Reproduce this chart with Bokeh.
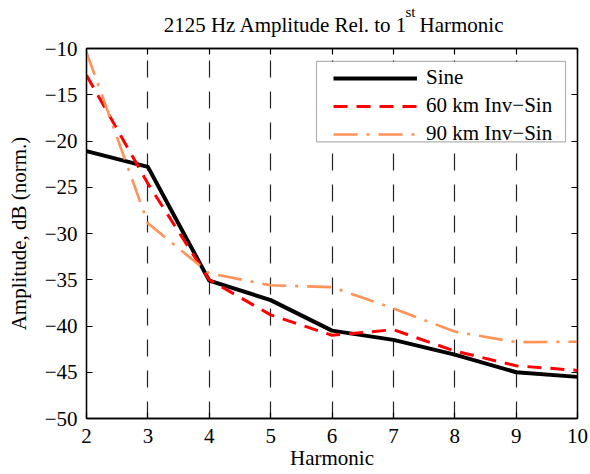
from bokeh.plotting import figure
from bokeh.models import (Range1d, FixedTicker, LinearAxis, BoxAnnotation,
                          Legend, LegendItem)
from bokeh.embed import file_html
from bokeh.resources import INLINE

# ---------------- data ----------------
harmonics = [2, 3, 4, 5, 6, 7, 8, 9, 10]
sine = [-21.1, -22.8, -35.1, -37.2, -40.5, -41.5, -43.1, -45.0, -45.5]
inv_sin_60 = [-12.9, -24.6, -35.0, -38.8, -41.0, -40.4, -42.7, -44.3, -44.8]
inv_sin_90 = [-10.4, -28.9, -34.3, -35.6, -35.8, -38.1, -40.6, -41.75, -41.7]

series_labels = ["Sine", "60 km Inv\u2212Sin", "90 km Inv\u2212Sin"]
x_ticks = [2, 3, 4, 5, 6, 7, 8, 9, 10]
y_ticks = [-50, -45, -40, -35, -30, -25, -20, -15, -10]
y_tick_labels = ["\u221250", "\u221245", "\u221240", "\u221235", "\u221230",
                 "\u221225", "\u221220", "\u221215", "\u221210"]

title_main = "2125 Hz Amplitude Rel. to 1"
title_sup = "st"
title_rest = "Harmonic"
x_label = "Harmonic"
y_label = "Amplitude, dB (norm.)"

FONT = "Liberation Serif"

# title piece anchors (x positions of the centre of each piece, layout only)
TITLE_MAIN_X = 5.244
TITLE_SUP_X = 7.278
TITLE_REST_X = 8.11

# ---------------- figure ----------------
p = figure(width=590, height=474, title=None,
           x_range=Range1d(2, 10), y_range=Range1d(-50, -10),
           output_backend="svg", toolbar_location=None,
           min_border_left=86, min_border_right=13,
           min_border_top=46, min_border_bottom=56)

p.outline_line_color = "black"
p.outline_line_width = 1.3
p.background_fill_color = "white"
p.border_fill_color = "white"

# bottom / left axes
for ax in (p.xaxis[0], p.yaxis[0]):
    ax.major_tick_in = 6
    ax.major_tick_out = 0
    ax.minor_tick_line_color = None
    ax.axis_line_color = "black"
    ax.axis_line_width = 1.3
    ax.major_tick_line_color = "black"
    ax.major_tick_line_width = 1.2
    ax.major_label_text_font = FONT
    ax.major_label_text_font_size = "21px"
    ax.major_label_text_color = "black"
    ax.axis_label_text_font = FONT
    ax.axis_label_text_font_size = "21px"
    ax.axis_label_text_font_style = "normal"
    ax.axis_label_text_color = "black"

p.xaxis[0].ticker = FixedTicker(ticks=x_ticks)
p.xaxis[0].major_label_standoff = 10
p.xaxis[0].axis_label = x_label
p.xaxis[0].axis_label_standoff = 0

p.yaxis[0].ticker = FixedTicker(ticks=y_ticks)
p.yaxis[0].major_label_overrides = {t: s for t, s in zip(y_ticks, y_tick_labels)}
p.yaxis[0].major_label_standoff = 9
p.yaxis[0].axis_label = y_label
p.yaxis[0].axis_label_standoff = 11

# top / right axes: ticks only
top_axis = LinearAxis(ticker=FixedTicker(ticks=x_ticks),
                      major_label_overrides={t: "" for t in x_ticks})
right_axis = LinearAxis(ticker=FixedTicker(ticks=y_ticks),
                        major_label_overrides={t: "" for t in y_ticks})
for ax in (top_axis, right_axis):
    ax.major_tick_in = 6
    ax.major_tick_out = 0
    ax.minor_tick_line_color = None
    ax.axis_line_color = "black"
    ax.axis_line_width = 1.3
    ax.major_tick_line_color = "black"
    ax.major_tick_line_width = 1.2
    ax.major_label_standoff = 0
    ax.major_label_text_font_size = "0px"
p.add_layout(top_axis, "above")
p.add_layout(right_axis, "right")

# title as text of two bare axes above the frame (keeps the superscript)
title_axis = LinearAxis(ticker=FixedTicker(ticks=[TITLE_MAIN_X, TITLE_REST_X]),
                        major_label_overrides={TITLE_MAIN_X: title_main,
                                               TITLE_REST_X: title_rest})
sup_axis = LinearAxis(ticker=FixedTicker(ticks=[TITLE_SUP_X]),
                      major_label_overrides={TITLE_SUP_X: title_sup})
for ax, size, standoff in ((title_axis, "21px", 12), (sup_axis, "15px", -10)):
    ax.axis_line_color = None
    ax.major_tick_line_color = None
    ax.minor_tick_line_color = None
    ax.major_tick_in = 0
    ax.major_tick_out = 0
    ax.major_label_standoff = standoff
    ax.major_label_text_font = FONT
    ax.major_label_text_font_size = size
    ax.major_label_text_color = "black"
p.add_layout(title_axis, "above")
p.add_layout(sup_axis, "above")

# grid: dashed vertical lines only
p.ygrid.grid_line_color = None
p.xgrid.ticker = FixedTicker(ticks=x_ticks)
p.xgrid.grid_line_color = "#222222"
p.xgrid.grid_line_width = 1.2
p.xgrid.grid_line_dash = "17 14"

# ---------------- lines ----------------
r_sine = p.line(harmonics, sine, line_color="black", line_width=4,
                line_join="round")
r_60 = p.line(harmonics, inv_sin_60, line_color="#FF0000", line_width=3,
              line_dash="14 9", line_join="round")
r_90 = p.line(harmonics, inv_sin_90, line_color="#FF9257", line_width=2.6,
              line_dash="24 9 3 9", line_join="round")

# legend frame (white box with thin black border)
legend_box = BoxAnnotation(left=5.747, right=9.805, top=-11.4, bottom=-20.1,
                           fill_color="white", fill_alpha=1.0,
                           line_color="black", line_width=1.2, level="annotation")
p.add_layout(legend_box)

legend = Legend(items=[LegendItem(label=series_labels[0], renderers=[r_sine]),
                       LegendItem(label=series_labels[1], renderers=[r_60]),
                       LegendItem(label=series_labels[2], renderers=[r_90])],
                location="top_right", margin=17, padding=0, spacing=3,
                glyph_width=84, glyph_height=24, label_height=24,
                label_width=134, label_standoff=9,
                label_text_font=FONT, label_text_font_size="21px",
                label_text_color="black",
                border_line_alpha=0, background_fill_alpha=0)
legend.level = "overlay"
p.add_layout(legend)

open("out.html", "w").write(file_html(p, INLINE))
